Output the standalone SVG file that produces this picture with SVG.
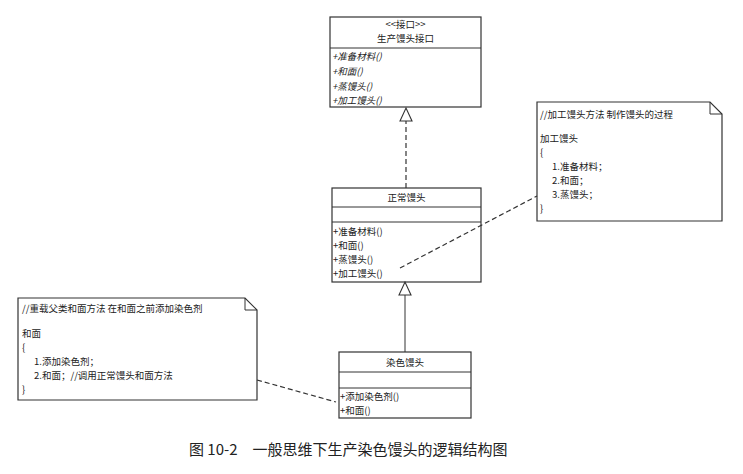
<svg xmlns="http://www.w3.org/2000/svg" width="743" height="474" viewBox="0 0 743 474">
<style>
text{font-family:"Noto Sans CJK SC","Liberation Serif",serif;font-size:9.5px;fill:#222}
.box{fill:#fff;stroke:#333;stroke-width:1.2}
.ln{stroke:#333;stroke-width:1;fill:none}
.dash{stroke:#333;stroke-width:1.2;stroke-dasharray:5,3;fill:none}
.it{font-style:italic}
.cap{font-size:15px;fill:#222}
</style>
<defs>
<marker id="tri" markerWidth="16" markerHeight="14" refX="14" refY="7" orient="auto" markerUnits="userSpaceOnUse">
<path d="M1,1 L14,7 L1,13 Z" fill="#fff" stroke="#333" stroke-width="1.1"/>
</marker>
</defs>
<g id="iface">
<rect class="box" x="330" y="17" width="151" height="90"/>
<line class="ln" x1="330" y1="48" x2="481" y2="48"/>
<text x="405.5" y="28" text-anchor="middle">&lt;&lt;接口&gt;&gt;</text>
<text x="405.5" y="42" text-anchor="middle">生产馒头接口</text>
<text class="it" x="332" y="60">+准备材料()</text>
<text class="it" x="332" y="75">+和面()</text>
<text class="it" x="332" y="90">+蒸馒头()</text>
<text class="it" x="332" y="104">+加工馒头()</text>
</g>
<g id="normal">
<rect class="box" x="332" y="188" width="149" height="94"/>
<line class="ln" x1="332" y1="207" x2="481" y2="207"/>
<line class="ln" x1="332" y1="222" x2="481" y2="222"/>
<text x="406.5" y="201" text-anchor="middle">正常馒头</text>
<text x="333" y="235">+准备材料()</text>
<text x="333" y="249">+和面()</text>
<text x="333" y="263">+蒸馒头()</text>
<text x="333" y="277">+加工馒头()</text>
</g>
<g id="dyed">
<rect class="box" x="339" y="352" width="132" height="66"/>
<line class="ln" x1="339" y1="372" x2="471" y2="372"/>
<line class="ln" x1="339" y1="388" x2="471" y2="388"/>
<text x="405" y="366" text-anchor="middle">染色馒头</text>
<text x="340" y="400">+添加染色剂()</text>
<text x="340" y="414">+和面()</text>
</g>
<g id="note1">
<path class="box" d="M537,102 H710 L722,114 V221 H537 Z"/>
<path class="ln" d="M710,102 V114 H722"/>
<text x="540" y="118">//加工馒头方法 制作馒头的过程</text>
<text x="540" y="142">加工馒头</text>
<text x="540" y="156">{</text>
<text x="552" y="170">1.准备材料；</text>
<text x="552" y="184">2.和面；</text>
<text x="552" y="198">3.蒸馒头；</text>
<text x="540" y="212">}</text>
</g>
<g id="note2">
<path class="box" d="M18,298 H245 L257,310 V400 H18 Z"/>
<path class="ln" d="M245,298 V310 H257"/>
<text x="22" y="312">//重载父类和面方法 在和面之前添加染色剂</text>
<text x="22" y="337">和面</text>
<text x="22" y="351">{</text>
<text x="34" y="365">1.添加染色剂；</text>
<text x="34" y="379">2.和面；//调用正常馒头和面方法</text>
<text x="22" y="393">}</text>
</g>
<g id="connectors">
<line class="dash" x1="406" y1="188" x2="406" y2="108" marker-end="url(#tri)"/>
<line class="ln" x1="405" y1="352" x2="405" y2="282" marker-end="url(#tri)"/>
<line class="dash" x1="400" y1="268" x2="537" y2="196"/>
<line class="dash" x1="257" y1="380" x2="336" y2="402"/>
</g>
<text class="cap" x="189" y="455">图 10-2　一般思维下生产染色馒头的逻辑结构图</text>
</svg>
